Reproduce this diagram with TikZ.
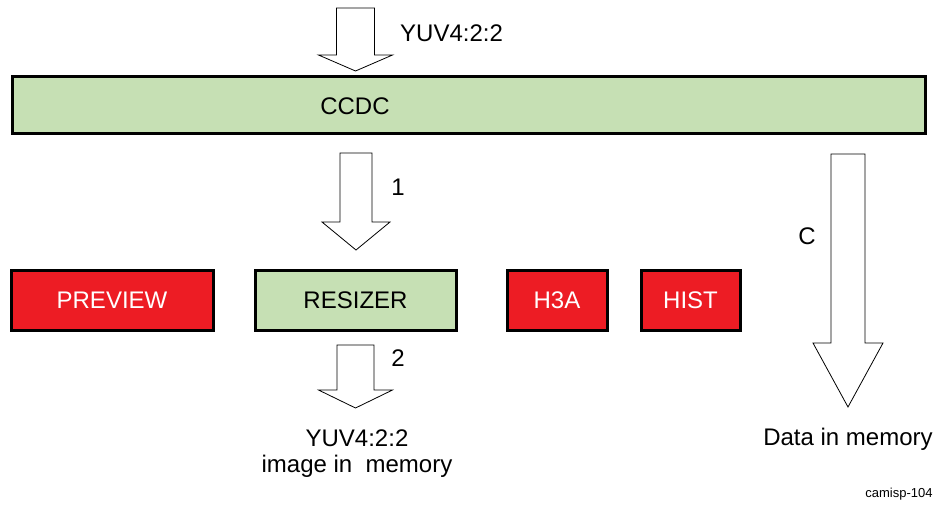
\documentclass[tikz,border=0pt]{standalone}
\usepackage{fontspec}
\setmainfont{Liberation Sans}
\definecolor{boxgreen}{HTML}{C6E0B4}
\definecolor{boxred}{HTML}{ED1C24}
\newcommand{\blockarr}[6]{% x, ytop, yshaft, ytip, halfshaft, halfhead
  \draw[arrline] ({#1-#5},#2) -- ({#1+#5},#2) -- ({#1+#5},#3) -- ({#1+#6},#3)
    -- (#1,#4) -- ({#1-#6},#3) -- ({#1-#5},#3) -- cycle;}
\begin{document}
\begin{tikzpicture}[x=1pt,y=-1pt,
  box/.style={draw=black,line width=3pt,minimum height=60pt,inner sep=0pt,
    font=\fontsize{24}{28}\selectfont},
  gbox/.style={box,fill=boxgreen,text=black},
  rbox/.style={box,fill=boxred,text=white},
  arrline/.style={draw=black,line width=0.8pt,fill=white,line join=miter},
  lbl/.style={font=\fontsize{24}{28}\selectfont,inner sep=0pt}]
\useasboundingbox (0,0) rectangle (935,504);
% boxes
\node[gbox,minimum width=913pt,minimum height=57pt] (ccdc) at (468.5,104.5) {};
\node[lbl] (ccdct) at (355,106) {CCDC};
\node[rbox,minimum width=202pt] (preview) at (112,300) {PREVIEW};
\node[gbox,minimum width=201pt] (resizer) at (355.5,300) {RESIZER};
\node[rbox,minimum width=100pt] (h3a) at (557,300) {H3A};
\node[rbox,minimum width=99pt] (hist) at (690.5,300) {HIST};
% arrows
\blockarr{355.5}{8}{55}{71}{19}{37}
\blockarr{356}{153}{222}{250}{16}{34}
\blockarr{355.5}{345}{390}{408}{18.5}{37}
\blockarr{848}{154}{343}{407}{17}{35}
% labels
\node[lbl,anchor=west] (yuvin) at (400,33) {YUV4:2:2};
\node[lbl] (one) at (398,187) {1};
\node[lbl] (two) at (398,358) {2};
\node[lbl] (c) at (807,236) {C};
\node[lbl] (yuvout) at (357,438) {YUV4:2:2};
\node[lbl] (imgmem) at (357,466) {image in\ \ memory};
\node[lbl] (datamem) at (848,439) {Data in memory};
\node[font=\fontsize{13}{15}\selectfont,inner sep=0pt] (tag) at (899,494) {camisp-104};
\end{tikzpicture}
\end{document}
